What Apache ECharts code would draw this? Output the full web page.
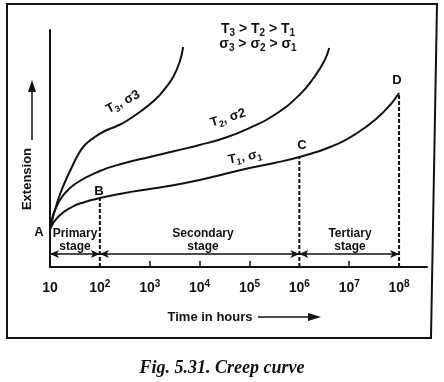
<!DOCTYPE html>
<html><head><meta charset="utf-8">
<script src="https://cdn.jsdelivr.net/npm/echarts@6/dist/echarts.min.js"></script>
<style>html,body{margin:0;padding:0;background:#fff}#c{width:444px;height:382px}</style>
</head><body><div id="c"></div>
<script>
// x values are log10(time in hours); y is extension (arbitrary units)
const xTicks = [1, 2, 3, 4, 5, 6, 7, 8];
const minorTicks = [3, 4, 5, 7];
const t1Exp = [1, 1.16, 1.44, 1.7, 1.96, 2.0, 2.5, 3, 3.5, 4, 4.5, 5, 5.5, 6.0, 6.62, 7.16, 7.56, 7.82, 8.0];
const t1Ext = [38, 50, 60, 65, 68.5, 69, 74, 78, 82, 87, 93, 99, 104, 110, 120, 134, 149, 162, 174];
const t2Exp = [1, 1.04, 1.1, 1.24, 1.5, 2, 2.5, 3, 3.5, 4, 4.5, 5, 5.5, 6, 6.3, 6.5, 6.6];
const t2Ext = [38, 48, 57, 70, 83, 96, 104, 110, 116, 122, 129, 139, 152, 172, 190, 206, 219];
const t3Exp = [1, 1.16, 1.3, 1.44, 1.56, 1.7, 1.9, 2.1, 2.34, 2.5, 2.8, 3.1, 3.3, 3.47, 3.6, 3.67];
const t3Ext = [38, 67, 85, 100, 112, 122, 130, 136, 141, 145, 155, 167, 178, 190, 205, 220];
const stageEdges = [1, 2, 6, 8];        // A, B, C, D along the time axis
const stageNames = ['Primary\nstage', 'Secondary\nstage', 'Tertiary\nstage'];
const arrowLevel = 13;

const zip = (xs, ys) => xs.map((x, i) => [x, ys[i]]);
const t1 = zip(t1Exp, t1Ext);
const t1At = x => t1Ext[t1Exp.indexOf(x)];

const FONT = '"Liberation Sans", Arial, sans-serif';
const black = '#111';

const chart = echarts.init(document.getElementById('c'), null, {renderer: 'canvas'});

const dashedSeries = stageEdges.slice(1).map(x => ({
  type: 'line', data: [[x, 0], [x, t1At(x)]], symbol: 'none', silent: true,
  lineStyle: {color: black, width: 2, type: [4, 2]}, z: 1
}));

const curveSeries = [t1, zip(t2Exp, t2Ext), zip(t3Exp, t3Ext)].map(d => ({
  type: 'line', data: d, symbol: 'none', smooth: 0.5,
  lineStyle: {color: black, width: 2}, z: 3
}));

const arrowSeries = {
  type: 'line', data: [], symbol: 'none',
  markLine: {
    silent: true, symbol: ['arrow', 'arrow'], symbolSize: [6, 9],
    lineStyle: {color: black, width: 1.5, type: 'solid'}, label: {show: false},
    data: stageEdges.slice(0, 3).map((x, i) => [{coord: [x, arrowLevel]}, {coord: [stageEdges[i + 1], arrowLevel]}])
  }
};

const txt = (x, y, text, extra) => Object.assign({
  type: 'text', x, y,
  style: Object.assign({text, font: 'bold 12px ' + FONT, fill: black, align: 'center', verticalAlign: 'middle'}, extra || {})
});

const subRich = size => ({
  b: {fontSize: size, fontWeight: 'bold', fontFamily: FONT, fill: black, color: black, lineHeight: size + 4},
  s: {fontSize: size - 4, fontWeight: 'bold', fontFamily: FONT, fill: black, color: black, verticalAlign: 'bottom', lineHeight: size - 2}
});

const stageCenters = [75, 203, 350];
const graphics = [
  {type: 'polygon', shape: {points: [[7, 4], [437, 4], [431, 338], [7, 338]]}, style: {fill: 'none', stroke: black, lineWidth: 2}, silent: true},
  Object.assign(txt(27, 179, 'Extension', {font: 'bold 13px ' + FONT}), {rotation: Math.PI / 2}),
  {type: 'line', shape: {x1: 32, y1: 140, x2: 32, y2: 90}, style: {stroke: black, lineWidth: 1.5}},
  {type: 'polygon', shape: {points: [[28, 92], [36, 92], [32, 80]]}, style: {fill: black}},
  txt(210, 317, 'Time in hours', {font: 'bold 13px ' + FONT}),
  {type: 'line', shape: {x1: 258, y1: 317, x2: 312, y2: 317}, style: {stroke: black, lineWidth: 1.5}},
  {type: 'polygon', shape: {points: [[308, 313], [308, 321], [321, 317]]}, style: {fill: black}},
  txt(222, 368, 'Fig. 5.31. Creep curve', {font: 'italic bold 18px "Liberation Serif", "Times New Roman", serif'}),
  txt(39, 232, 'A', {font: 'bold 13px ' + FONT}),
  txt(99, 191, 'B', {font: 'bold 13px ' + FONT}),
  txt(302, 145, 'C', {font: 'bold 13px ' + FONT}),
  txt(397, 80, 'D', {font: 'bold 13px ' + FONT}),
  txt(258, 29, '{b|T}{s|3}{b| > T}{s|2}{b| > T}{s|1}', {rich: subRich(14)}),
  txt(258, 44, '{b|σ}{s|3}{b| > σ}{s|2}{b| > σ}{s|1}', {rich: subRich(14)}),
  Object.assign(txt(123, 102, '{b|T}{s|3}{b|, σ3}', {rich: subRich(13)}), {rotation: 27 * Math.PI / 180}),
  Object.assign(txt(228, 118, '{b|T}{s|2}{b|, σ2}', {rich: subRich(13)}), {rotation: 17 * Math.PI / 180}),
  Object.assign(txt(245, 157, '{b|T}{s|1}{b|, σ}{s|1}', {rich: subRich(13)}), {rotation: 11 * Math.PI / 180})
].concat(stageNames.map((s, i) => txt(stageCenters[i], 240, s, {font: 'bold 12px ' + FONT, lineHeight: 13})));

chart.setOption({
  animation: false,
  backgroundColor: '#fff',
  grid: {left: 50, right: 17, top: 30, bottom: 115},
  xAxis: {
    type: 'value', min: 1, max: 8.56,
    axisLine: {show: true, lineStyle: {color: black, width: 2}},
    axisTick: {show: true, inside: true, length: 6, customValues: minorTicks, lineStyle: {color: black, width: 1.5}},
    splitLine: {show: false},
    axisLabel: {
      customValues: xTicks, margin: 12,
      formatter: v => v === 1 ? '{b|10}' : '{b|10}{s|' + v + '}',
      rich: {
        b: {fontSize: 14, fontWeight: 'bold', fontFamily: FONT, color: black, lineHeight: 18},
        s: {fontSize: 10, fontWeight: 'bold', fontFamily: FONT, color: black, verticalAlign: 'top', lineHeight: 10}
      }
    }
  },
  yAxis: {
    type: 'value', min: 0, max: 237,
    axisLine: {show: true, lineStyle: {color: black, width: 2}},
    axisTick: {show: false}, axisLabel: {show: false}, splitLine: {show: false}
  },
  series: dashedSeries.concat(curveSeries, [arrowSeries]),
  graphic: graphics
});
</script></body></html>
